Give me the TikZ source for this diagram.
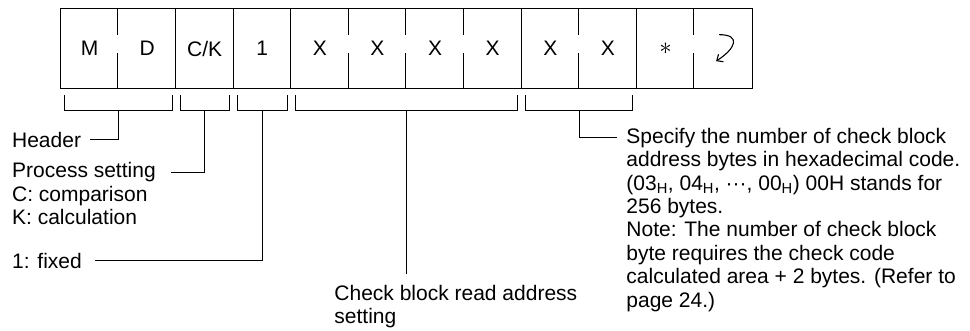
\documentclass[tikz,border=0pt]{standalone}
\usepackage{fontspec}
\setmainfont{Liberation Sans}
\usetikzlibrary{positioning, arrows.meta}

\begin{document}
\begin{tikzpicture}[x=1pt, y=-1pt, line width=0.9pt,
  font=\fontsize{21}{23.4}\selectfont,
  cell/.style={minimum width=57.6pt, minimum height=78.7pt, inner sep=0pt},
  lbl/.style={anchor=base west, inner sep=0pt, align=left},
  brace/.style={line width=0.8pt},
  lead/.style={line width=0.8pt}]

  \useasboundingbox (0,0) rectangle (970,330);

  % --- command frame (12 characters) ---
  \foreach \i/\chr in {0/M, 1/D, 2/{C/K}, 3/1, 4/X, 5/X, 6/X, 7/X, 8/X, 9/X, 10/{\fontsize{36}{36}\selectfont$\ast$}, 11/{}} {
    \node[cell] (c\i) at (89.5+57.6*\i, 48.65) {\chr};
  }
  \draw[line width=1.2pt] (c0.north west) rectangle (c11.south east);

  % full dividers between fields
  \foreach \i in {2,3,4,8,10}
    \draw (c\i.north west) -- (c\i.south west);

  % half dividers inside a field
  \foreach \i in {1,5,6,7,9,11} {
    \draw (c\i.north west) -- ++(0,25.7);
    \draw (c\i.south west) -- ++(0,-35);
  }

  % carriage return mark
  \draw[-{Straight Barb[length=5pt, width=9pt]}, line width=1.1pt]
    ([shift={(-4,-14)}]c11.center) .. controls +(22,0) and +(20,-13) .. ([shift={(-7,12.5)}]c11.center);

  % --- brackets under the fields ---
  \foreach \a/\b/\n in {0/2/1, 2/3/2, 3/4/3, 4/8/4, 8/10/5} {
    \draw[brace] (64.7+57.6*\a,95) -- (64.7+57.6*\a,110) -- (56.7+57.6*\b,110) -- (56.7+57.6*\b,95);
    \coordinate (b\n) at (60.7+28.8*\a+28.8*\b,110);
  }

  % --- labels (multi-line ones sit on their last line) ---
  \node[lbl] (lblHead) at (11.7,147) {Header};
  \node[lbl] (lblProc) at (11.7,177.5) {Process setting};
  \node[lbl] (lblProcSub) at (11.7,224.4) {C: comparison\\K: calculation};
  \node[lbl] (lblFixed) at (11.7,268) {1: fixed};
  \node[lbl] (lblCheck) at (334,323.9) {Check block read address\\setting};
  \node[lbl] (lblSpec) at (626,143.2) {Specify the number of check block};
  \node[lbl] (lblSpecMore) at (626,307) {address bytes in hexadecimal code.\\
    (03\textsubscript{H}, 04\textsubscript{H}, \textperiodcentered\textperiodcentered\textperiodcentered, 00\textsubscript{H}) 00H stands for\\
    256 bytes.\\
    Note: The number of check block\\
    byte requires the check code\\
    calculated area + 2 bytes. (Refer to\\
    page 24.)};

  % --- leader lines ---
  \draw[lead] (b1) |- ([xshift=9pt]lblHead.east);
  \draw[lead] (b2) |- ([xshift=15pt]lblProc.east);
  \draw[lead] (b3) |- ([xshift=13pt]lblFixed.east);
  \draw[lead, shorten >=11pt] (b4) -- (b4 |- lblCheck.north);
  \draw[lead] (b5) |- ([xshift=-8.7pt]lblSpec.west);

\end{tikzpicture}
\end{document}
